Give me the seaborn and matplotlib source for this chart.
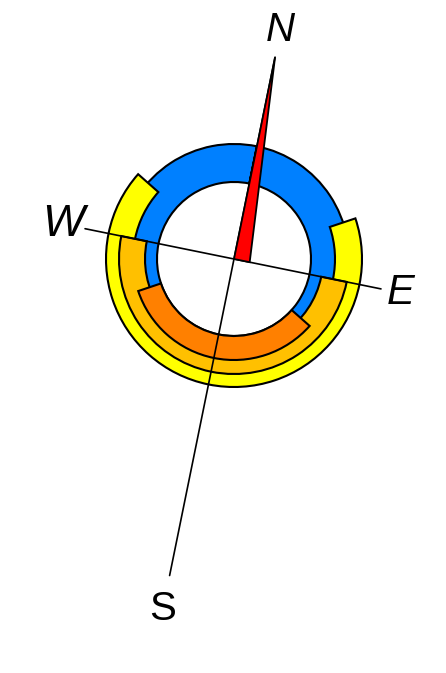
import numpy as np
import matplotlib
matplotlib.use("Agg")
import matplotlib.pyplot as plt
import seaborn as sns

# ---- data -------------------------------------------------------------
ring_names = ["ring_a", "ring_b", "ring_c", "ring_d"]
ring_start = [0, 60, 90, 120]          # bearing (deg), clockwise from N
ring_end = [360, 300, 270, 240]
ring_inner = [77, 101, 89, 77]
ring_outer = [115, 128, 115, 101]
ring_colors = ["#0080FF", "#FFFF00", "#FFC000", "#FF8000"]

directions = ["N", "E", "S", "W"]
dir_bearing = [0, 90, 180, 270]
axis_length = [206, 150, 323, 152]
label_radius = [234, 170, 357, 174]
label_italic = [True, True, False, True]
label_size = [29, 30, 29, 32]

needle_bearing = [0, 90, 0]
needle_radius = [0, 16, 206]
needle_color = "#FF0000"

rotation_deg = -11.5   # compass rotated clockwise on screen

# ---- figure -----------------------------------------------------------
sns.set_theme(style="white")
plt.rcParams["font.family"] = ["Liberation Sans", "DejaVu Sans"]

W, H = 446, 673
fig = plt.figure(figsize=(W / 100, H / 100), dpi=100)
fig.patch.set_facecolor("white")

R = 220
cx, cy = 234, 673 - 259
ax = fig.add_axes([(cx - R) / W, (cy - R) / H, 2 * R / W, 2 * R / H],
                  projection="polar")
ax.set_theta_zero_location("N", offset=rotation_deg)
ax.set_theta_direction(-1)
ax.set_rlim(0, R)
ax.set_axis_off()

pal = sns.color_palette(ring_colors)
for name, s, e, ri, ro, c in zip(ring_names, ring_start, ring_end,
                                 ring_inner, ring_outer, pal):
    bars = ax.bar(np.deg2rad((s + e) / 2), ro - ri, width=np.deg2rad(e - s),
                  bottom=ri, color=c, edgecolor="black", linewidth=1.5,
                  align="center", zorder=2, label=name)
    for b in bars:
        b.set_clip_on(False)

for d, b, L, lr, it, fs in zip(directions, dir_bearing, axis_length,
                               label_radius, label_italic, label_size):
    t = np.deg2rad(b)
    ax.plot([t, t], [0, L], color="black", lw=1.2, clip_on=False, zorder=3)
    ax.text(t, lr, d, ha="center", va="center", fontsize=fs,
            style="italic" if it else "normal", color="black", zorder=5)

ax.fill(np.deg2rad(needle_bearing), needle_radius, facecolor=needle_color,
        edgecolor="black", linewidth=1.3, clip_on=False, zorder=4)

fig.savefig("out.png", dpi=100, facecolor="white")
